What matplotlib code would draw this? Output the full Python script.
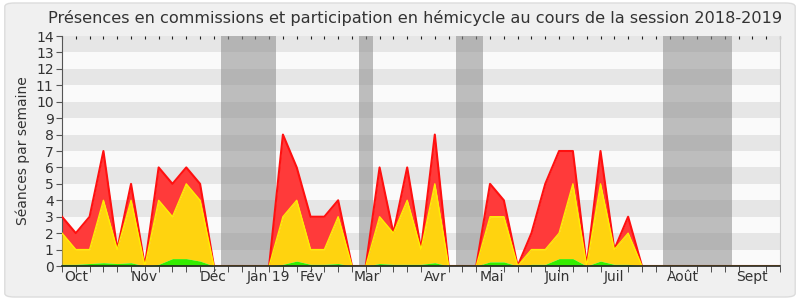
import matplotlib
matplotlib.use("Agg")
import matplotlib.pyplot as plt
import numpy as np
from matplotlib.patches import FancyBboxPatch

# --- data (weekly, session 2018-2019, starting early October 2018) ---
weeks = list(range(53))
green = [0.1, 0.1, 0.15, 0.2, 0.15, 0.2, 0, 0.1, 0.45, 0.45, 0.3, 0,
         0, 0, 0, 0, 0.1, 0.3, 0.1, 0.1, 0.15, 0,
         0, 0.15, 0.1, 0.1, 0.1, 0.2, 0,
         0, 0, 0.25, 0.25, 0, 0.1, 0.1, 0.45, 0.45, 0, 0.3, 0.1, 0.1, 0,
         0, 0, 0, 0, 0, 0, 0, 0, 0, 0]
yellow_level = [2, 1, 1, 4, 1, 4, 0, 4, 3, 5, 4, 0,
                0, 0, 0, 0, 3, 4, 1, 1, 3, 0,
                0, 3, 2, 4, 1, 5, 0,
                0, 0, 3, 3, 0, 1, 1, 2, 5, 0, 5, 1, 2, 0,
                0, 0, 0, 0, 0, 0, 0, 0, 0, 0]
total_level = [3, 2, 3, 7, 1, 5, 0, 6, 5, 6, 5, 0,
               0, 0, 0, 0, 8, 6, 3, 3, 4, 0,
               0, 6, 2, 6, 1, 8, 0,
               0, 0, 5, 4, 0, 2, 5, 7, 7, 0, 7, 1, 3, 0,
               0, 0, 0, 0, 0, 0, 0, 0, 0, 0]
vacations = [(11.5, 15.5), (21.5, 22.5), (28.5, 30.5), (43.5, 48.5)]
month_labels = ["Oct", "Nov", "Déc", "Jan 19", "Fév", "Mar", "Avr", "Mai",
                "Juin", "Juil", "Août", "Sept"]
month_pos = [1.06, 5.94, 10.96, 14.93, 18.09, 22.1, 27.0, 31.1, 35.9, 40.0, 45.0, 50.0]
title = "Présences en commissions et participation en hémicycle au cours de la session 2018-2019"
ylabel = "Séances par semaine"

# --- figure ---
fig = plt.figure(figsize=(8, 3), dpi=100)
fig.patch.set_facecolor("white")
border = FancyBboxPatch((0.006, 0.01), 0.988, 0.98,
                        boxstyle="round,pad=0,rounding_size=0.012",
                        transform=fig.transFigure, facecolor="#f0f0f0",
                        edgecolor="#dcdcdc", linewidth=1.0, zorder=-10)
fig.patches.append(border)

ax = fig.add_axes([0.0775, 0.1133, 0.8975, 0.7667])
ax.set_facecolor("#fafafa")
ax.set_xlim(0, 52)
ax.set_ylim(0, 14)

# alternating stripes
for k in range(1, 14, 2):
    ax.axhspan(k, k + 1, color="#e6e6e6", zorder=0, linewidth=0)

# vacation bands
for a, b in vacations:
    ax.axvspan(a, b, color="#8c8c8c", alpha=0.55, zorder=1, linewidth=0)

x = np.array(weeks)
g = np.array(green)
yl = np.array(yellow_level)
tl = np.array(total_level)

ax.fill_between(x, yl, tl, color="#ff3a3a", linewidth=0, zorder=2)
ax.plot(x, tl, color="#ff1010", linewidth=1.5, zorder=3)
ax.fill_between(x, g, yl, color="#ffd30f", linewidth=0, zorder=4)
ax.plot(x, yl, color="#ffee00", linewidth=1.0, zorder=5)
ax.fill_between(x, 0, g, color="#33ee00", linewidth=0, zorder=6)

# axes styling
ax.spines["top"].set_visible(False)
ax.spines["right"].set_color("#cccccc")
ax.spines["left"].set_color("#555555")
ax.spines["bottom"].set_color("#222222")
ax.spines["bottom"].set_linewidth(1.2)
ax.spines["bottom"].set_zorder(10)

ax.set_yticks(range(0, 15))
ax.tick_params(axis="y", direction="out", length=4, color="#555555",
               labelsize=10, labelcolor="#333333", pad=2)

ax.set_xticks(month_pos)
ax.set_xticklabels(month_labels)
ax.set_xticks(weeks, minor=True)
ax.tick_params(axis="x", which="major", length=0, labelsize=10,
               labelcolor="#333333", pad=3)
ax.tick_params(axis="x", which="minor", direction="out", length=4,
               color="#333333", top=False, bottom=True)

# small inward marks along the top edge
top = ax.secondary_xaxis("top")
top.set_xticks(weeks)
top.set_xticklabels([])
top.tick_params(axis="x", direction="in", length=2, color="#222222")
top.spines["top"].set_visible(False)

ax.set_ylabel(ylabel, fontsize=10, color="#333333", labelpad=4)
fig.text(0.519, 0.965, title, ha="center", va="top", fontsize=11.6, color="#333333")

fig.savefig("out.png", dpi=100, facecolor=fig.get_facecolor())
